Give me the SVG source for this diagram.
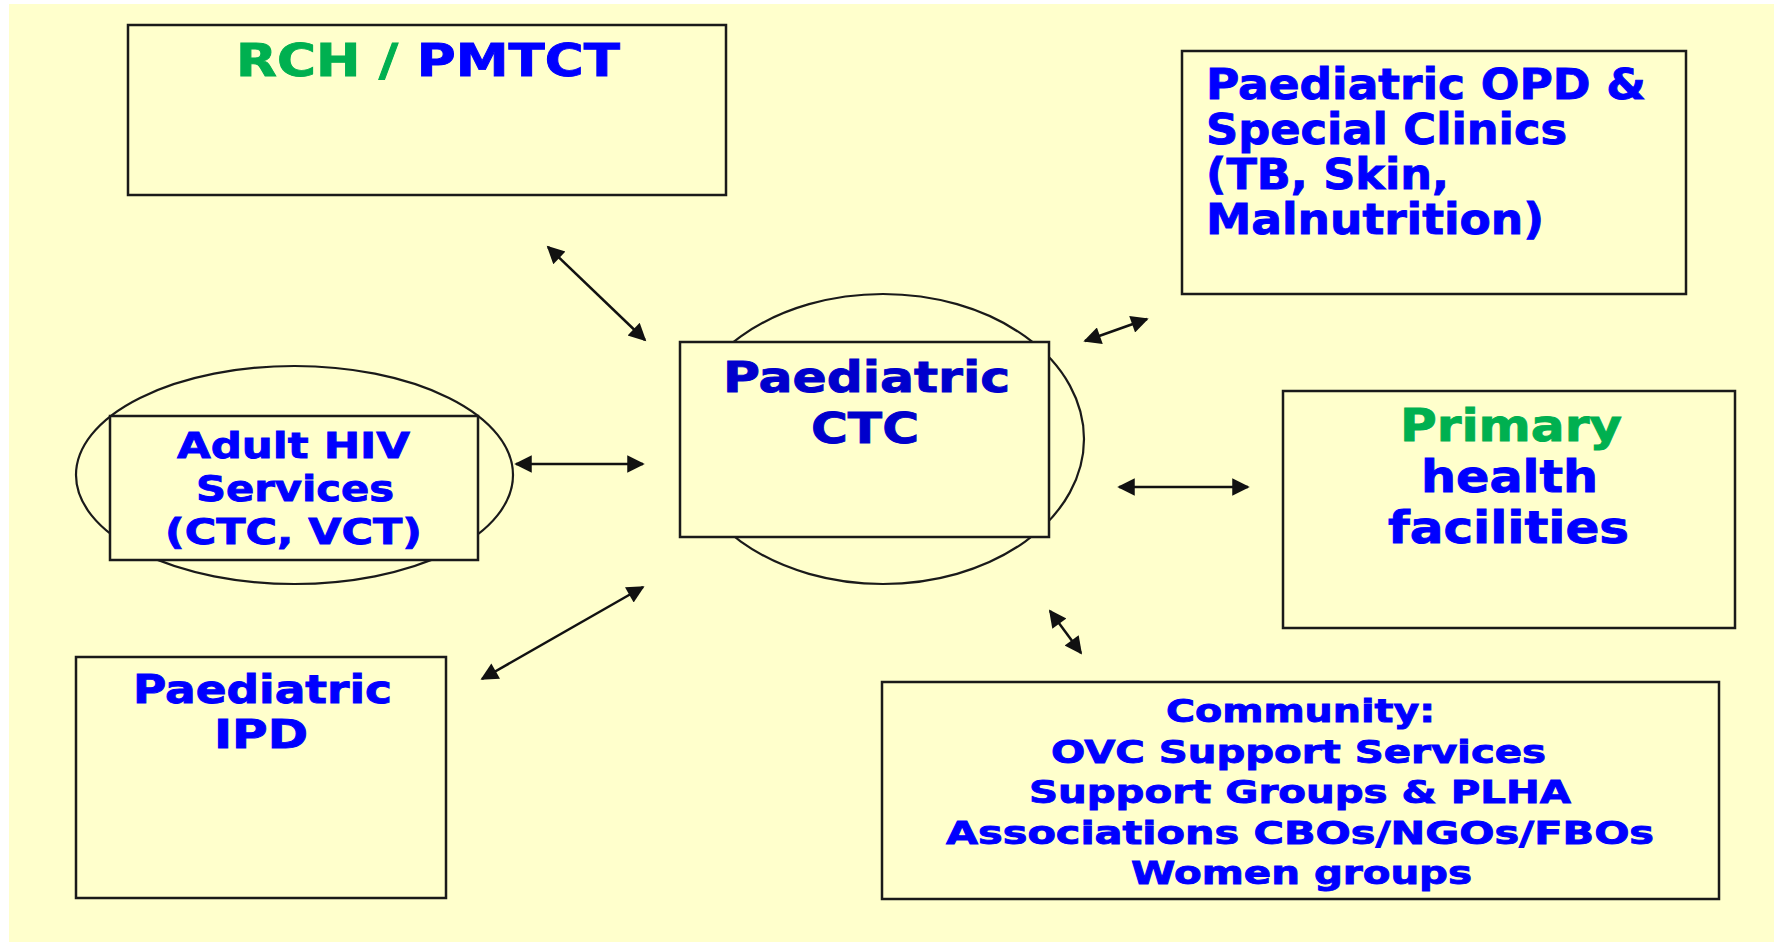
<svg xmlns="http://www.w3.org/2000/svg" width="1774" height="942" viewBox="0 0 1774 942">
  <style>
    .box { fill: #FFFFCC; stroke: #1a1a1a; stroke-width: 2.5; }
    .ring { fill: #FFFFCC; stroke: #1a1a1a; stroke-width: 2.2; }
    .lbl { font-family: "DejaVu Sans", Verdana, sans-serif; font-weight: bold; fill: #0000FF; stroke: #0000FF; stroke-width: 0.9; paint-order: stroke; }
    .dark { fill: #0000CC; stroke: #0000CC; }
    .green { fill: #00B050; stroke: #00B050; }
    .link { stroke: #111; stroke-width: 2.5; fill: none; marker-start: url(#head); marker-end: url(#head); }
  </style>
  <defs>
    <marker id="head" viewBox="0 0 10 10" refX="9" refY="5" markerWidth="8" markerHeight="7" markerUnits="strokeWidth" orient="auto-start-reverse">
      <path d="M0,0 L10,5 L0,10 Z" fill="#111"/>
    </marker>
  </defs>

  <!-- page background -->
  <rect x="0" y="0" width="1774" height="942" fill="#FFFFFF"/>
  <rect x="9" y="4" width="1765" height="938" fill="#FFFFCC"/>

  <!-- connectors -->
  <g id="connectors">
    <line class="link" x1="548" y1="247" x2="645" y2="340"/>
    <line class="link" x1="1085" y1="341" x2="1147" y2="319"/>
    <line class="link" x1="516" y1="464" x2="643" y2="464"/>
    <line class="link" x1="1119" y1="487" x2="1248" y2="487"/>
    <line class="link" x1="482" y1="679" x2="643" y2="587"/>
    <line class="link" x1="1050" y1="611" x2="1081" y2="653"/>
  </g>

  <!-- RCH / PMTCT -->
  <g id="node-rch">
    <rect class="box" x="128" y="25" width="598" height="170"/>
    <text class="lbl" x="236" y="76" font-size="45" textLength="384" lengthAdjust="spacingAndGlyphs"><tspan class="green">RCH / </tspan><tspan>PMTCT</tspan></text>
  </g>

  <!-- Paediatric OPD & Special Clinics -->
  <g id="node-opd">
    <rect class="box" x="1182" y="51" width="504" height="243"/>
    <text class="lbl" x="1206" y="99" font-size="42" textLength="440" lengthAdjust="spacingAndGlyphs">Paediatric OPD &amp;</text>
    <text class="lbl" x="1206" y="144" font-size="42" textLength="361" lengthAdjust="spacingAndGlyphs">Special Clinics</text>
    <text class="lbl" x="1206" y="189" font-size="42" textLength="243" lengthAdjust="spacingAndGlyphs">(TB, Skin,</text>
    <text class="lbl" x="1206" y="234" font-size="42" textLength="338" lengthAdjust="spacingAndGlyphs">Malnutrition)</text>
  </g>

  <!-- Adult HIV Services -->
  <g id="node-adult">
    <ellipse class="ring" cx="294.5" cy="475" rx="218.5" ry="109"/>
    <rect class="box" x="110" y="416" width="368" height="144"/>
    <text class="lbl" x="177" y="458" font-size="36" textLength="233" lengthAdjust="spacingAndGlyphs">Adult HIV</text>
    <text class="lbl" x="196" y="501" font-size="36" textLength="198" lengthAdjust="spacingAndGlyphs">Services</text>
    <text class="lbl" x="165" y="544" font-size="36" textLength="257" lengthAdjust="spacingAndGlyphs">(CTC, VCT)</text>
  </g>

  <!-- Paediatric CTC (hub) -->
  <g id="node-ctc">
    <ellipse class="ring" cx="883" cy="439" rx="201" ry="145"/>
    <rect class="box" x="680" y="342" width="369" height="195"/>
    <text class="lbl dark" x="723" y="392" font-size="42" textLength="287" lengthAdjust="spacingAndGlyphs">Paediatric</text>
    <text class="lbl dark" x="811" y="443" font-size="42" textLength="108" lengthAdjust="spacingAndGlyphs">CTC</text>
  </g>

  <!-- Primary health facilities -->
  <g id="node-primary">
    <rect class="box" x="1283" y="391" width="452" height="237"/>
    <text class="lbl green" x="1400" y="441" font-size="44" textLength="222" lengthAdjust="spacingAndGlyphs">Primary</text>
    <text class="lbl" x="1421" y="492" font-size="44" textLength="177" lengthAdjust="spacingAndGlyphs">health</text>
    <text class="lbl" x="1388" y="543" font-size="44" textLength="241" lengthAdjust="spacingAndGlyphs">facilities</text>
  </g>

  <!-- Paediatric IPD -->
  <g id="node-ipd">
    <rect class="box" x="76" y="657" width="370" height="241"/>
    <text class="lbl" x="133" y="703" font-size="39" textLength="259" lengthAdjust="spacingAndGlyphs">Paediatric</text>
    <text class="lbl" x="214" y="748" font-size="39" textLength="94" lengthAdjust="spacingAndGlyphs">IPD</text>
  </g>

  <!-- Community -->
  <g id="node-community">
    <rect class="box" x="882" y="682" width="837" height="217"/>
    <text class="lbl" x="1166" y="722" font-size="32" textLength="269" lengthAdjust="spacingAndGlyphs">Community:</text>
    <text class="lbl" x="1051" y="763" font-size="32" textLength="495" lengthAdjust="spacingAndGlyphs">OVC Support Services</text>
    <text class="lbl" x="1029" y="803" font-size="32" textLength="542" lengthAdjust="spacingAndGlyphs">Support Groups &amp; PLHA</text>
    <text class="lbl" x="946" y="844" font-size="32" textLength="708" lengthAdjust="spacingAndGlyphs">Associations CBOs/NGOs/FBOs</text>
    <text class="lbl" x="1131" y="884" font-size="32" textLength="341" lengthAdjust="spacingAndGlyphs">Women groups</text>
  </g>
</svg>
